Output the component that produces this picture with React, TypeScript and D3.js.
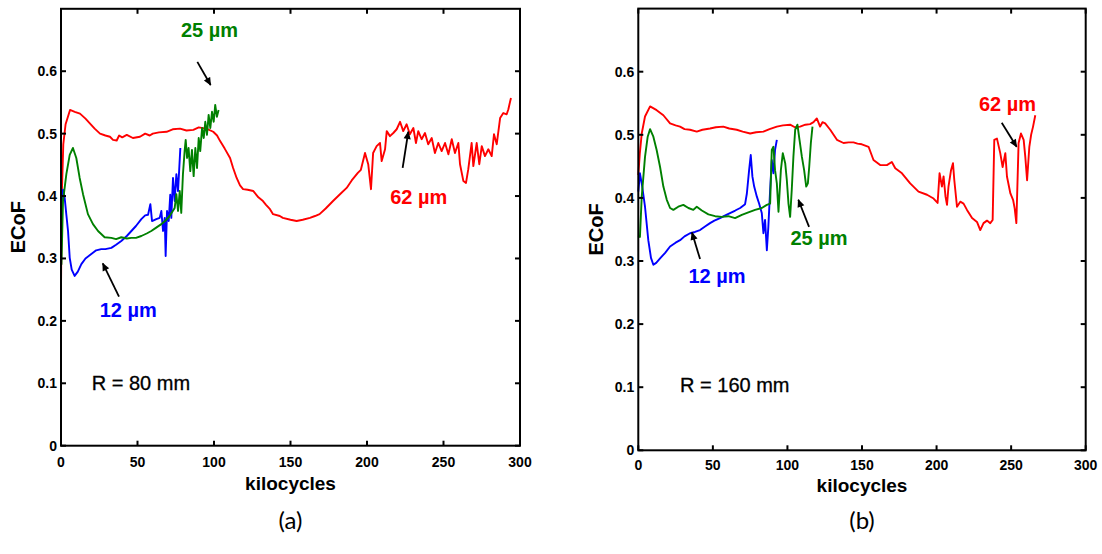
import React from "react";
import * as d3 from "d3";

// Equivalent coefficient of friction vs. kilocycles, three stroke amplitudes
// R = 80 mm panel
const r80_62um: [number, number][] = [
  [0, 0.25], [0.5, 0.4], [1.5, 0.483], [3, 0.515], [5.9, 0.538], [9, 0.535], [12.4, 0.532], [16, 0.524],
  [19, 0.516], [22, 0.508], [25.5, 0.5], [29, 0.497], [32, 0.495], [34, 0.49], [36.4, 0.489], [38, 0.497],
  [40, 0.494], [43, 0.498], [47, 0.493], [51.6, 0.495], [55, 0.5], [58, 0.497], [60, 0.5], [64, 0.502],
  [69, 0.503], [73, 0.507], [77.8, 0.508], [82, 0.505], [86.5, 0.506], [90, 0.51], [95, 0.508], [99.5, 0.503],
  [102, 0.497], [104, 0.488], [107, 0.476], [110.5, 0.461], [112.5, 0.445], [114.8, 0.429], [117, 0.417],
  [119, 0.411], [122, 0.41], [125.7, 0.408], [129, 0.398], [132, 0.392], [134, 0.386], [136.6, 0.379],
  [138.6, 0.371], [143, 0.368], [145, 0.365], [150, 0.362], [154, 0.36], [158, 0.362], [162.7, 0.365],
  [166, 0.368], [169, 0.371], [173, 0.38], [177.8, 0.392], [182, 0.402], [186.7, 0.413], [190, 0.425],
  [194, 0.437], [196, 0.442], [198.7, 0.469], [200.8, 0.451], [202.6, 0.411], [204, 0.469], [206.3, 0.48],
  [208.5, 0.485], [209.6, 0.456], [211.8, 0.475], [212.9, 0.504], [215, 0.496], [217.2, 0.501], [219.4, 0.507],
  [221.6, 0.519], [223.7, 0.504], [225.9, 0.515], [228, 0.499], [230.3, 0.509], [232, 0.485], [233.5, 0.504],
  [235.7, 0.491], [237.9, 0.501], [240, 0.483], [242.3, 0.493], [244.4, 0.469], [246.6, 0.485], [248.8, 0.472],
  [251, 0.485], [253.2, 0.467], [255.4, 0.491], [257.5, 0.469], [259.7, 0.485], [260.8, 0.451], [263, 0.424],
  [264.7, 0.421], [266.2, 0.443], [268.4, 0.485], [269.5, 0.448], [271.7, 0.485], [273.4, 0.451], [275, 0.48],
  [277.1, 0.464], [279.3, 0.475], [281.5, 0.464], [283, 0.499], [284.8, 0.483], [287, 0.525], [289.1, 0.533],
  [291.3, 0.531], [292.4, 0.539], [293.5, 0.551], [294.1, 0.557],
];

const r80_12um: [number, number][] = [
  [0.3, 0.37], [1.3, 0.41], [2.4, 0.397], [3.5, 0.37], [4.6, 0.344], [5.7, 0.301], [7, 0.282], [8.9, 0.272],
  [11, 0.279], [13.3, 0.291], [16, 0.3], [19.8, 0.307], [23, 0.313], [26.3, 0.315], [29, 0.315], [32.9, 0.317],
  [36, 0.322], [39.4, 0.328], [43, 0.336], [46, 0.344], [49, 0.352], [52.5, 0.363], [55, 0.369], [56.9, 0.37],
  [58.4, 0.387], [59.5, 0.36], [62.3, 0.363], [64.5, 0.365], [65.6, 0.376], [66.7, 0.344], [67.8, 0.365],
  [68.4, 0.304], [69.3, 0.376], [70.4, 0.36], [71.4, 0.402], [72.1, 0.365], [73.2, 0.429], [74.3, 0.392],
  [75.4, 0.435], [76.5, 0.408], [78, 0.477],
];

const r80_25um: [number, number][] = [
  [0.3, 0.29], [1.3, 0.392], [3.5, 0.435], [5.7, 0.466], [7.8, 0.477], [10, 0.461], [12.2, 0.429], [14.4, 0.403],
  [17.6, 0.371], [20.9, 0.355], [24.2, 0.344], [28.5, 0.334], [32.9, 0.333], [36, 0.331], [39.4, 0.334],
  [43, 0.332], [46, 0.333], [49, 0.333], [52.5, 0.336], [56, 0.34], [59, 0.344], [62, 0.349], [65.6, 0.355],
  [68, 0.36], [71, 0.368], [74.3, 0.381], [75.4, 0.403], [76.5, 0.376], [77.6, 0.408], [78.6, 0.373],
  [79.7, 0.435], [80.8, 0.472], [81.5, 0.49], [82.4, 0.461], [83.4, 0.477], [84.5, 0.44], [85.6, 0.474],
  [86.7, 0.432], [87.8, 0.477], [88.9, 0.445], [90, 0.493], [91, 0.472], [92.2, 0.509], [93.3, 0.493],
  [94.3, 0.519], [95.4, 0.498], [96.5, 0.53], [97.6, 0.509], [98.7, 0.535], [99.8, 0.519], [100.8, 0.546],
  [101.9, 0.527], [103, 0.538],
];

// R = 160 mm panel
const r160_62um: [number, number][] = [
  [0, 0.436], [1, 0.47], [2.3, 0.502], [4.5, 0.529], [7.9, 0.545], [12.3, 0.539], [16.8, 0.531], [21.3, 0.518],
  [25, 0.515], [28, 0.513], [31, 0.509], [34.7, 0.508], [39.2, 0.505], [43, 0.508], [48.1, 0.51], [52, 0.512],
  [57, 0.513], [61, 0.51], [66, 0.508], [70, 0.505], [75, 0.502], [79, 0.504], [83.9, 0.505], [88, 0.509],
  [92.9, 0.513], [97, 0.515], [101.8, 0.516], [105, 0.512], [108.5, 0.513], [112, 0.516], [115.2, 0.517],
  [117.5, 0.52], [119.7, 0.526], [121.9, 0.513], [123.5, 0.52], [125.3, 0.518], [128.7, 0.508], [133.2, 0.492],
  [137.6, 0.487], [141, 0.488], [144.3, 0.488], [147, 0.486], [149.9, 0.485], [154.4, 0.481], [157.7, 0.46],
  [162.2, 0.452], [166.7, 0.452], [170, 0.457], [172.3, 0.447], [176.8, 0.439], [182.3, 0.423], [187.9, 0.41],
  [193.6, 0.405], [198, 0.399], [200.7, 0.392], [202, 0.439], [203.6, 0.418], [204.7, 0.434], [206, 0.402],
  [207, 0.389], [208, 0.418], [209.7, 0.444], [211, 0.455], [211.9, 0.428], [213.7, 0.386], [215.9, 0.394],
  [218.1, 0.391], [220.4, 0.381], [223.8, 0.368], [227.1, 0.362], [229.3, 0.349], [231.5, 0.36], [233.8, 0.364],
  [236, 0.36], [237.6, 0.365], [238.7, 0.492], [240.5, 0.494], [242.7, 0.471], [244.3, 0.449], [246.1, 0.471],
  [247.2, 0.434], [249.5, 0.407], [251.3, 0.397], [252.4, 0.383], [253.5, 0.36], [255, 0.487], [256.6, 0.502],
  [258.4, 0.492], [259.5, 0.465], [260.7, 0.428], [262.2, 0.481], [263.4, 0.5], [264.7, 0.513], [266.2, 0.531],
];

const r160_12um: [number, number][] = [
  [0, 0.41], [1.1, 0.439], [2.5, 0.42], [4.5, 0.386], [6.7, 0.333], [8.5, 0.305], [10.1, 0.294], [12, 0.297],
  [14.6, 0.304], [18, 0.313], [21.3, 0.323], [25, 0.329], [28, 0.333], [31, 0.339], [34.7, 0.344], [38, 0.346],
  [41.4, 0.349], [45, 0.355], [48.1, 0.36], [51, 0.364], [54.8, 0.368], [58, 0.372], [61.5, 0.376], [65, 0.38],
  [68.3, 0.384], [71.6, 0.39], [72.8, 0.407], [74.3, 0.444], [75.4, 0.468], [76.5, 0.434], [77.7, 0.418],
  [79.5, 0.402], [81, 0.391], [82.8, 0.376], [83.9, 0.344], [85, 0.365], [86.2, 0.317], [87.2, 0.354],
  [88.4, 0.413], [89.5, 0.46], [90.6, 0.439], [91.7, 0.476], [92.9, 0.492],
];

const r160_25um: [number, number][] = [
  [0, 0.34], [1.1, 0.338], [2.3, 0.402], [4.5, 0.465], [6.3, 0.497], [7.9, 0.509], [10.1, 0.497], [12.3, 0.476],
  [14.6, 0.449], [16.8, 0.418], [19.1, 0.397], [21.3, 0.384], [23.5, 0.381], [26.8, 0.386], [30.2, 0.389],
  [33.6, 0.384], [36.9, 0.381], [39.2, 0.386], [42.6, 0.38], [47, 0.374], [51.5, 0.371], [56, 0.37],
  [60.4, 0.371], [64.9, 0.368], [69.4, 0.373], [73.8, 0.377], [78.3, 0.381], [82.8, 0.384], [86.2, 0.389],
  [88.4, 0.391], [89.5, 0.476], [90.6, 0.481], [91.7, 0.444], [92.9, 0.423], [94, 0.378], [95.6, 0.444],
  [96.9, 0.471], [98.5, 0.455], [99.6, 0.428], [100.7, 0.391], [101.8, 0.37], [102.9, 0.413], [104, 0.465],
  [105.2, 0.508], [106.7, 0.516], [108.1, 0.492], [109.7, 0.465], [111.2, 0.444], [112.6, 0.418], [113.7, 0.423],
  [114.6, 0.449], [115.7, 0.487], [116.8, 0.513],
];

const xTickValues = [0, 50, 100, 150, 200, 250, 300];
const yTickValues = [0, 0.1, 0.2, 0.3, 0.4, 0.5, 0.6];
const yTickLabels = ["0", "0.1", "0.2", "0.3", "0.4", "0.5", "0.6"];

const RED = "#ff0000";
const BLUE = "#0000ff";
const GREEN = "#008000";
const AXIS_FONT = "'Liberation Sans', Arial, Helvetica, sans-serif";

type Note = { text: string; color: string; lx: number; ly: number; tail: [number, number]; tip: [number, number] };

type PanelProps = {
  left: number; right: number; top: number; bottom: number;
  curves: { data: [number, number][]; color: string }[];
  notes: Note[];
  radiusText: string; radiusAt: [number, number];
  tag: string;
  yLabelX: number; xLabelY: number; xTickY: number;
};

function Panel(p: PanelProps) {
  const x = d3.scaleLinear().domain([0, 300]).range([p.left, p.right]);
  const y = d3.scaleLinear().domain([0, 0.7]).range([p.bottom, p.top]);
  const line = d3.line<[number, number]>().x((d) => x(d[0])).y((d) => y(d[1]));
  const tk = 5;
  const cx = (p.left + p.right) / 2;
  const cy = (p.top + p.bottom) / 2;
  return (
    <g>
      <defs>
        <clipPath id={`clip-${p.tag}`}>
          <rect x={p.left} y={p.top} width={p.right - p.left} height={p.bottom - p.top} />
        </clipPath>
      </defs>
      <g clipPath={`url(#clip-${p.tag})`}>
        {p.curves.map((c, i) => (
          <path key={i} d={line(c.data) ?? ""} fill="none" stroke={c.color} strokeWidth={1.9} strokeLinejoin="round" />
        ))}
      </g>
      {/* box with mirrored inward ticks */}
      <rect x={p.left} y={p.top} width={p.right - p.left} height={p.bottom - p.top} fill="none" stroke="#000" strokeWidth={2} />
      {xTickValues.map((v) => (
        <g key={`xt${v}`}>
          <line x1={x(v)} x2={x(v)} y1={p.bottom} y2={p.bottom - tk} stroke="#000" strokeWidth={2} />
          <line x1={x(v)} x2={x(v)} y1={p.top} y2={p.top + tk} stroke="#000" strokeWidth={2} />
          <text x={x(v)} y={p.xTickY} textAnchor="middle" fontFamily={AXIS_FONT} fontWeight="bold" fontSize={14}>{v}</text>
        </g>
      ))}
      {yTickValues.map((v, i) => (
        <g key={`yt${i}`}>
          <line x1={p.left} x2={p.left + tk} y1={y(v)} y2={y(v)} stroke="#000" strokeWidth={2} />
          <line x1={p.right} x2={p.right - tk} y1={y(v)} y2={y(v)} stroke="#000" strokeWidth={2} />
          <text x={p.left - 4} y={y(v)} dy="0.36em" textAnchor="end" fontFamily={AXIS_FONT} fontWeight="bold" fontSize={14}>{yTickLabels[i]}</text>
        </g>
      ))}
      <text x={cx} y={p.xLabelY} textAnchor="middle" fontFamily={AXIS_FONT} fontWeight="bold" fontSize={19}>kilocycles</text>
      <text transform={`translate(${p.yLabelX},${cy}) rotate(-90)`} textAnchor="middle" fontFamily={AXIS_FONT} fontWeight="bold" fontSize={20}>ECoF</text>
      {p.notes.map((n, i) => (
        <g key={`n${i}`}>
          <line x1={x(n.tail[0])} y1={y(n.tail[1])} x2={x(n.tip[0])} y2={y(n.tip[1])} stroke="#000" strokeWidth={1.8} markerEnd="url(#arrowHead)" />
          <text x={x(n.lx)} y={y(n.ly)} textAnchor="middle" fontFamily={AXIS_FONT} fontWeight="bold" fontSize={20} fill={n.color}>{n.text}</text>
        </g>
      ))}
      <text x={x(p.radiusAt[0])} y={y(p.radiusAt[1])} fontFamily={AXIS_FONT} fontSize={20} stroke="#000" strokeWidth={0.3}>{p.radiusText}</text>
      <text x={cx} y={529} textAnchor="middle" fontFamily="Lato, 'Open Sans', sans-serif" fontSize={24}>{p.tag}</text>
    </g>
  );
}

export default function App() {
  return (
    <svg width={1102} height={554} style={{ position: "absolute", left: 0, top: 0, background: "#fff" }}>
      <defs>
        <marker id="arrowHead" viewBox="0 0 10 10" refX="9" refY="5" markerWidth="9" markerHeight="8" markerUnits="userSpaceOnUse" orient="auto">
          <path d="M0,0.5 L10,5 L0,9.5 z" fill="#000" />
        </marker>
      </defs>
      <rect width={1102} height={554} fill="#fff" />
      <Panel
        left={61} right={520} top={8.8} bottom={445.7}
        curves={[
          { data: r80_62um, color: RED },
          { data: r80_12um, color: BLUE },
          { data: r80_25um, color: GREEN },
        ]}
        notes={[
          { text: "25 µm", color: GREEN, lx: 97.1, ly: 0.655, tail: [89.1, 0.615], tip: [97.8, 0.578] },
          { text: "12 µm", color: BLUE, lx: 44, ly: 0.206, tail: [37.9, 0.239], tip: [27.3, 0.292] },
          { text: "62 µm", color: RED, lx: 233.8, ly: 0.388, tail: [223.3, 0.445], tip: [227, 0.503] },
        ]}
        radiusText="R = 80 mm" radiusAt={[20.1, 0.0888]}
        tag="(a)" yLabelX={25} xLabelY={490} xTickY={467.3}
      />
      <Panel
        left={638.3} right={1085.7} top={8.6} bottom={450.3}
        curves={[
          { data: r160_62um, color: RED },
          { data: r160_12um, color: BLUE },
          { data: r160_25um, color: GREEN },
        ]}
        notes={[
          { text: "12 µm", color: BLUE, lx: 52.8, ly: 0.265, tail: [41.4, 0.303], tip: [36, 0.345] },
          { text: "25 µm", color: GREEN, lx: 121.2, ly: 0.325, tail: [114.5, 0.354], tip: [107.3, 0.397] },
          { text: "62 µm", color: RED, lx: 247.6, ly: 0.537, tail: [243.7, 0.519], tip: [253.7, 0.481] },
        ]}
        radiusText="R = 160 mm" radiusAt={[28, 0.093]}
        tag="(b)" yLabelX={603} xLabelY={491.5} xTickY={469.6}
      />
    </svg>
  );
}
